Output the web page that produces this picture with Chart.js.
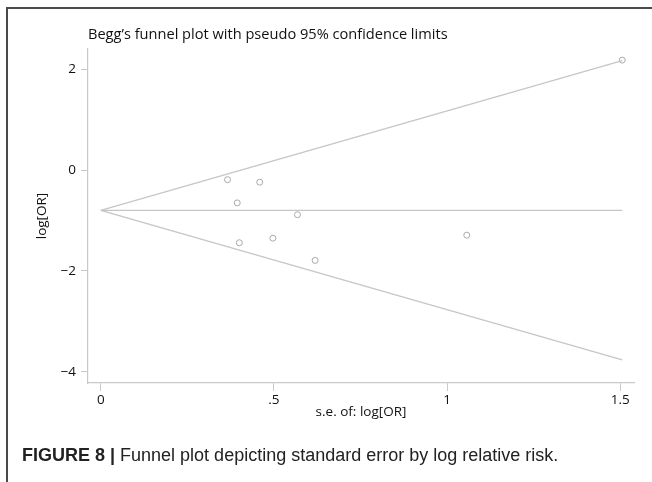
<!DOCTYPE html>
<html>
<head>
<meta charset="utf-8">
<script src="https://cdn.jsdelivr.net/npm/chart.js@4/dist/chart.umd.min.js"></script>
<style>
  html, body { margin: 0; padding: 0; background: #fff; }
  #wrap { position: relative; width: 652px; height: 482px; overflow: hidden; }
  #frame {
    position: absolute; left: 6px; top: 7px; right: -4px; bottom: -4px;
    border-top: 2px solid #4a4a4a; border-left: 2px solid #4a4a4a;
  }
  #plot { position: absolute; left: 0; top: 0; }
  #title {
    position: absolute; left: 88px; top: 23px;
    font: 14.6px 'Open Sans', sans-serif; color: #111; white-space: nowrap;
  }
  #caption {
    position: absolute; left: 22px; top: 445px;
    font: 18px 'Liberation Sans', Arial, sans-serif; color: #222; white-space: nowrap;
  }
  #caption b { font-family: 'Liberation Sans Narrow', 'Liberation Sans', sans-serif; font-weight: bold; }
</style>
</head>
<body>
<div id="wrap">
  <div id="frame"></div>
  <canvas id="plot" width="652" height="482"></canvas>
  <div id="title">Begg’s funnel plot with pseudo 95% confidence limits</div>
  <div id="caption"><b>FIGURE 8 |</b> Funnel plot depicting standard error by log relative risk.</div>
</div>
<script>
// studies: s.e. of log[OR] and log[OR]
const studySE = [0.366, 0.459, 0.394, 0.568, 0.497, 0.400, 0.619, 1.057, 1.506]
const studyLogOR = [-0.19, -0.24, -0.65, -0.885, -1.35, -1.44, -1.79, -1.29, 2.18]

// funnel lines (pseudo 95% limits + pooled estimate)
const funnelSE = [0, 1.506]
const upperLimit = [-0.8, 2.17]
const lowerLimit = [-0.8, -3.76]
const pooledLine = [-0.8, -0.8]

// axis ticks
const xTickValues = [0, 0.5, 1, 1.5]
const xTickLabels = ['0', '.5', '1', '1.5']
const yTickValues = [2, 0, -2, -4]
const yTickLabels = ['2', '0', '−2', '−4']

const lineGray = '#c6c6c6'
const axisGray = '#c9c9c9'
const tickFont = { family: 'Open Sans', size: 13.5 }

function toPoints(xs, ys) {
  return xs.map((x, i) => ({ x: x, y: ys[i] }))
}

function lineSet(ys) {
  return {
    data: toPoints(funnelSE, ys),
    showLine: true,
    borderColor: lineGray,
    borderWidth: 1.3,
    pointRadius: 0,
    fill: false,
  }
}

new Chart(document.getElementById('plot'), {
  type: 'scatter',
  data: {
    datasets: [
      lineSet(upperLimit),
      lineSet(lowerLimit),
      lineSet(pooledLine),
      {
        data: toPoints(studySE, studyLogOR),
        pointRadius: 3,
        pointBorderWidth: 1,
        pointBorderColor: '#a9a9a9',
        pointBackgroundColor: 'rgba(255,255,255,0)',
      },
    ],
  },
  options: {
    responsive: false,
    animation: false,
    layout: { padding: { left: 0, top: 49, right: 18, bottom: 54 } },
    plugins: { legend: { display: false }, tooltip: { enabled: false } },
    scales: {
      x: {
        type: 'linear',
        min: -0.037,
        max: 1.54,
        afterBuildTicks: (scale) => {
          scale.ticks = xTickValues.map((v) => ({ value: v }))
        },
        afterFit: (scale) => { scale.height = 45 },
        ticks: {
          callback: (v) => xTickLabels[xTickValues.indexOf(v)],
          color: '#111',
          font: tickFont,
          padding: 1,
          maxRotation: 0,
        },
        grid: { drawOnChartArea: false, drawTicks: true, tickLength: 8, color: axisGray },
        border: { display: true, color: axisGray, width: 1.2 },
        title: {
          display: true,
          text: 's.e. of: log[OR]',
          color: '#111',
          font: tickFont,
          padding: { top: 0, bottom: 8 },
        },
      },
      y: {
        type: 'linear',
        min: -4.22,
        max: 2.4,
        afterBuildTicks: (scale) => {
          scale.ticks = yTickValues.map((v) => ({ value: v }))
        },
        afterFit: (scale) => { scale.width = 88 },
        ticks: {
          callback: (v) => yTickLabels[yTickValues.indexOf(v)],
          color: '#111',
          font: tickFont,
          padding: 5,
        },
        grid: { drawOnChartArea: false, drawTicks: true, tickLength: 7, color: axisGray },
        border: { display: true, color: axisGray, width: 1.2 },
        title: {
          display: true,
          text: 'log[OR]',
          color: '#111',
          font: tickFont,
          padding: { top: 34, bottom: 0 },
        },
      },
    },
  },
})
</script>
</body>
</html>
